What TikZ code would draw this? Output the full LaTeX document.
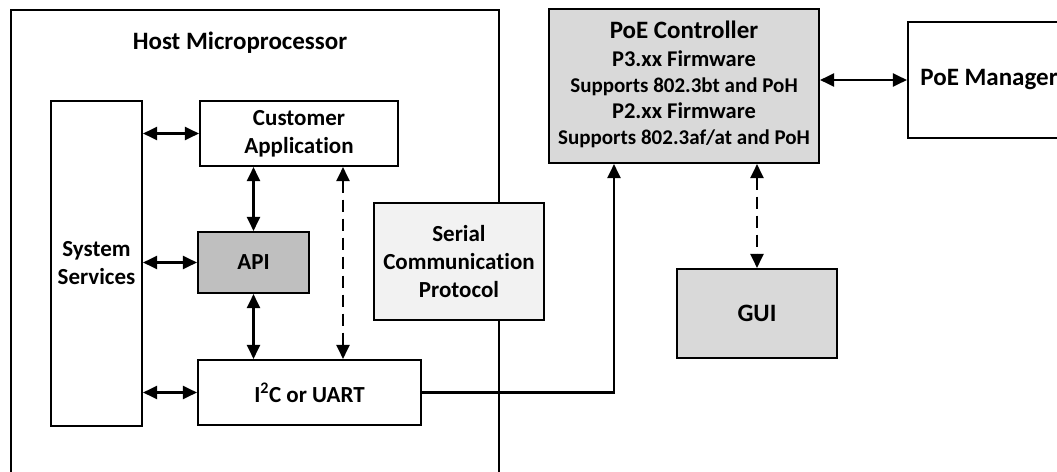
\documentclass[tikz,border=0pt]{standalone}
\usepackage{fontspec}
\setmainfont{Carlito}[Ligatures={NoCommon,NoRare,NoDiscretionary},Contextuals={NoAlternate}]
\usetikzlibrary{arrows.meta}
\definecolor{apigray}{HTML}{BFBFBF}
\definecolor{poegray}{HTML}{D9D9D9}
\definecolor{sergray}{HTML}{F2F2F2}
\tikzset{
  blk/.style={draw, line width=2.1pt, align=center, inner sep=0pt,
    font=\bfseries\fontsize{23}{28}\selectfont},
  tip/.tip={Triangle[length=14pt,width=13pt]},
  biarr/.style={line width=2.1pt, tip-tip},
  onearr/.style={line width=2.1pt, -tip},
  dasharr/.style={line width=2.1pt, tip-tip, dash pattern=on 12pt off 7pt},
}
\begin{document}
\begin{tikzpicture}[x=1pt,y=-1pt]
\useasboundingbox (0,0) rectangle (1057,471);
\clip (0,0) rectangle (1057,471);
% host
\node[draw, line width=2.4pt, minimum width=488pt, minimum height=500pt, anchor=north west, inner sep=0pt] (host) at (10,9) {};
\node[font=\bfseries\fontsize{25}{30}\selectfont, inner sep=0pt] (hosttitle) at (240,43) {Host Microprocessor};
% inner blocks
\node[blk, minimum width=91pt, minimum height=325pt] (sys) at (96.5,263.5) {System\\Services};
\node[blk, minimum width=198pt, minimum height=65pt] (cust) at (299,133.5) {Customer\\Applica\kern0pt tion};
\node[blk, fill=apigray, minimum width=111pt, minimum height=61pt] (api) at (253.5,262.5) {API};
\node[blk, minimum width=223pt, minimum height=65pt] (i2c) at (309.5,392.5) {I\textsuperscript{2}C or UART};
\node[blk, fill=sergray, minimum width=170pt, minimum height=117pt] (serial) at (459,261.5) {Serial\\Communica\kern0pt tion\\Protocol};
% right side
\node[blk, fill=poegray, minimum width=270pt, minimum height=154pt, font=\bfseries\fontsize{21}{26}\selectfont] (poe) at (684,86)
  {{\fontsize{25}{26}\selectfont PoE Controller}\\[2pt]
   {\fontsize{22.5}{26}\selectfont P3.xx Firmware}\\
   Supports 802.3bt and PoH\\
   {\fontsize{22.5}{26}\selectfont P2.xx Firmware}\\
   Supports 802.3af/at and PoH\rule[-6pt]{0pt}{6pt}};
\node[blk, minimum width=162pt, minimum height=116pt, font=\bfseries\fontsize{25}{30}\selectfont] (mgr) at (989,80) {PoE Manager};
\node[blk, fill=poegray, minimum width=160pt, minimum height=89pt, font=\bfseries\fontsize{25}{30}\selectfont] (gui) at (757,313.5) {GUI};
% connectors
\draw[biarr] (sys.east |- cust.west) -- (cust.west);
\draw[biarr] (sys.east |- api.west) -- (api.west);
\draw[biarr] (sys.east |- i2c.west) -- (i2c.west);
\draw[biarr] (cust.south -| api.north) -- (api.north);
\draw[biarr] (api.south) -- (api.south |- i2c.north);
\draw[dasharr] ([xshift=44pt]cust.south) -- ([xshift=44pt]cust.south |- i2c.north);
\draw[onearr] (i2c.east) -| ([xshift=-70pt]poe.south);
\draw[dasharr] (gui.north |- poe.south) -- (gui.north);
\draw[biarr] (poe.east |- mgr.west) -- (mgr.west);
\end{tikzpicture}
\end{document}
